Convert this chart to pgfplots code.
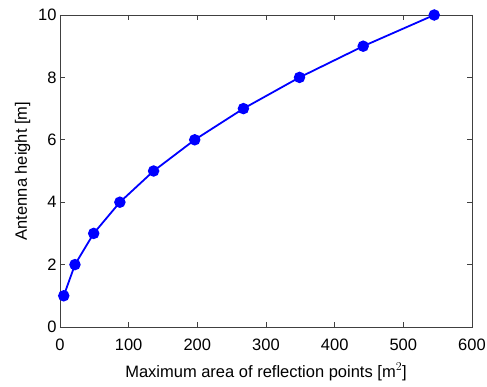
\documentclass[border=0pt]{standalone}
\usepackage{pgfplots}
\pgfplotsset{compat=1.18}
\usepackage{fontspec}
\setmainfont{Liberation Sans}
\begin{document}
\begin{tikzpicture}
\path[use as bounding box] (-60pt,-59pt) rectangle (427pt,327pt);
\begin{axis}[
  scale only axis,
  width=412pt, height=312pt,
  xmin=0, xmax=600, ymin=0, ymax=10,
  xtick={0,100,...,600}, ytick={0,2,...,10},
  tick align=inside,
  major tick length=5pt,
  axis line style={black!75, line width=0.8pt},
  tick style={black!75, line width=0.8pt},
  /pgf/number format/assume math mode=true,
  ticklabel style={font=\fontsize{16.5}{18}\selectfont},
  label style={font=\fontsize{16.5}{18}\selectfont},
  xticklabel style={yshift=-8pt},
  yticklabel style={xshift=0pt},
  xlabel={Maximum area of reflection points [m$^{2}$]},
  ylabel={Antenna height [m]},
  xlabel style={yshift=-6pt},
  ylabel style={yshift=1pt},
]
\addplot[blue, line width=1.8pt, mark=*, mark size=4.8pt, mark options={fill=blue, draw=blue}]
coordinates {(5.45,1) (21.8,2) (49.1,3) (87.2,4) (136.3,5) (196.2,6) (267.1,7) (348.8,8) (441.5,9) (545,10)};
\end{axis}
\end{tikzpicture}
\end{document}
